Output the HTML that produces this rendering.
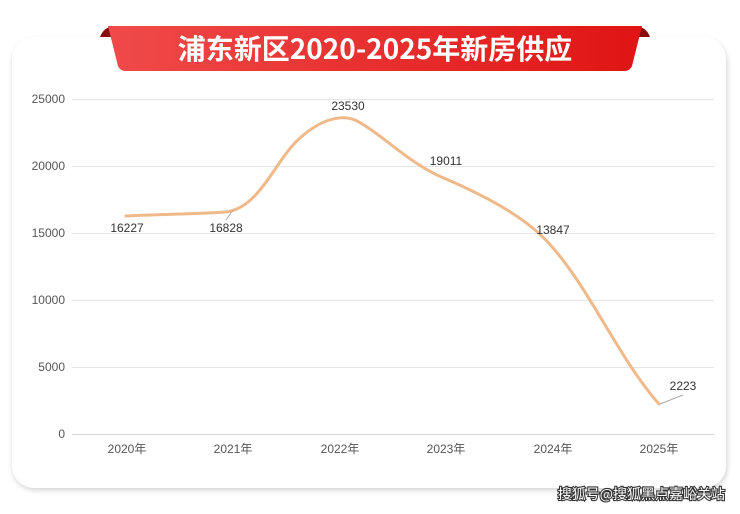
<!DOCTYPE html>
<html><head><meta charset="utf-8"><style>
body{margin:0;width:740px;height:509px;background:#fff;overflow:hidden;font-family:"Liberation Sans","Noto Sans CJK SC",sans-serif;}
</style></head><body>
<svg width="740" height="509" viewBox="0 0 740 509" xmlns="http://www.w3.org/2000/svg">
<defs>
<filter id="sh" x="-5%" y="-5%" width="110%" height="115%"><feGaussianBlur stdDeviation="3"/></filter>
<linearGradient id="rg" x1="0" x2="1"><stop offset="0" stop-color="#f04a4a"/><stop offset="1" stop-color="#e01414"/></linearGradient>
</defs>
<rect x="13" y="40" width="714" height="450" rx="22" fill="#000" opacity="0.18" filter="url(#sh)"/>
<rect x="12" y="37" width="714" height="451" rx="22" fill="#fff"/>
<!-- ribbon -->
<path d="M100 37 Q104 26 116 26 L124 37 Z" fill="#8a0c0c"/>
<path d="M650 37 Q646 26 634 26 L626 37 Z" fill="#8a0c0c"/>
<path d="M108 26 L642 26 L632 66 Q630 71 624 71 L126 71 Q120 71 118 66 Z" fill="url(#rg)"/>
<text x="375" y="59" text-anchor="middle" font-size="28" font-weight="bold" fill="#fff" font-family="'Noto Sans CJK SC',sans-serif">浦东新区2020-2025年新房供应</text>
<!-- grid -->
<g stroke="#e6e6e6" stroke-width="1">
<line x1="72" x2="714" y1="99.5" y2="99.5"/><line x1="72" x2="714" y1="166.5" y2="166.5"/><line x1="72" x2="714" y1="233.5" y2="233.5"/><line x1="72" x2="714" y1="300.5" y2="300.5"/><line x1="72" x2="714" y1="367.5" y2="367.5"/></g>
<line x1="72" x2="714" y1="434.5" y2="434.5" stroke="#d4d4d4"/>
<g font-size="12" fill="#555" text-anchor="end">
<text x="65" y="103">25000</text><text x="65" y="170">20000</text><text x="65" y="237">15000</text><text x="65" y="304">10000</text><text x="65" y="371">5000</text><text x="65" y="438">0</text></g>
<g font-size="12" fill="#555" text-anchor="middle" font-family="'Liberation Sans','Noto Sans CJK SC',sans-serif">
<text x="127" y="453">2020年</text><text x="233" y="453">2021年</text><text x="340" y="453">2022年</text><text x="446" y="453">2023年</text><text x="553" y="453">2024年</text><text x="659" y="453">2025年</text></g>
<path d="M126 216 C160 214 200 214 226 212 C260 208 275 160 300 138 C320 120 340 114 355 120 C380 132 410 165 446 179 C490 198 530 220 553 248 C590 290 620 360 659 404" fill="none" stroke="#efb98a" stroke-width="3" stroke-linecap="round"/>
<line x1="660" y1="404" x2="683" y2="395" stroke="#aaa" stroke-width="1"/>
<line x1="233" y1="210" x2="226" y2="220" stroke="#aaa" stroke-width="1"/>
<g font-size="12" fill="#333" text-anchor="middle">
<text x="127" y="232">16227</text><text x="226" y="232">16828</text><text x="348" y="110">23530</text><text x="446" y="165">19011</text><text x="553" y="234">13847</text><text x="683" y="390">2223</text></g>
<text x="725" y="499" text-anchor="end" font-size="14" fill="#fff" stroke="#333" stroke-width="2.2" paint-order="stroke" font-family="'Noto Sans CJK SC',sans-serif">搜狐号@搜狐黑点嘉峪关站</text>
</svg>
</body></html>
